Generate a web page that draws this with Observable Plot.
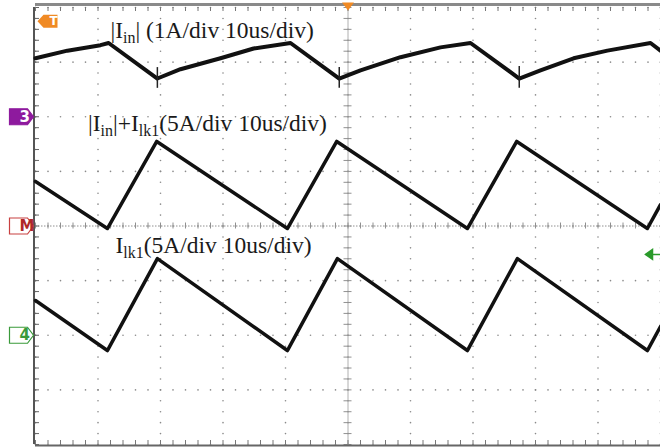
<!DOCTYPE html>
<html>
<head>
<meta charset="utf-8">
<script src="https://cdn.jsdelivr.net/npm/d3@7"></script>
<script src="https://cdn.jsdelivr.net/npm/@observablehq/plot@0.6"></script>
<style>
  html, body { margin: 0; padding: 0; background: #fff; }
  #chart svg { display: block; }
</style>
</head>
<body>
<div id="chart"></div>
<script>
// ---- Data (time in us, current in A) ----
// Trace 1: |Iin|  (1 A/div, ground at +2 div)
const t1Time = [0, 5.1, 10.4, 11.7, 19.5, 23.2, 29.6, 34.9, 40.8, 48.6, 52.0, 58.4, 64.8, 69.6, 77.4, 80.8, 86.1, 91.5, 98.4, 100];
const t1Amp  = [1.07, 1.21, 1.31, 1.35, 0.70, 0.87, 1.07, 1.25, 1.35, 0.70, 0.85, 1.09, 1.27, 1.35, 0.70, 0.85, 1.07, 1.21, 1.35, 1.21];
// glitches on trace 1 at its minima
const spikeTime = [19.5, 48.6, 77.4];
const spikeLow  = [0.52, 0.52, 0.52];
const spikeHigh = [0.90, 0.90, 0.92];
// Trace 2: |Iin| + Ilk1 (5 A/div, ground at 0 div)
const t2Time = [0, 11.5, 19.4, 40.3, 48.2, 69.1, 77.0, 97.9, 100];
const t2Amp  = [4.08, -0.23, 7.74, -0.23, 7.74, -0.23, 7.74, -0.23, 1.95];
// Trace 3: Ilk1 (5 A/div, ground at -2 div)
const t3Time = [0, 11.5, 19.5, 40.3, 48.3, 69.1, 77.1, 97.9, 100];
const t3Amp  = [3.18, -1.40, 7.02, -1.40, 7.02, -1.40, 7.02, -1.40, 0.80];

const ampPerDiv = [1, 5, 5];
const groundDiv = [2, 0, -2];

const labels     = ["|I_{in}| (1A/div 10us/div)", "|I_{in}|+I_{lk1}(5A/div 10us/div)", "I_{lk1}(5A/div 10us/div)"];
const labelTime  = [12, 8.4, 12.8];
const labelDiv   = [3.58, 1.88, -0.36];

const markerText   = ["3", "M", "4"];
const markerLevel  = [2, 0, -2];
const markerFill   = ["#8e1a9e", "#ffffff", "#ffffff"];
const markerStroke = ["#8e1a9e", "#c84040", "#3a9a3a"];
const markerInk    = ["#ffffff", "#b02828", "#3a9a3a"];
const triggerLevel = 3.75;      // "T" marker level (div)
const triggerTime  = 50;        // trigger position (us)
const ch4Trigger   = -0.52;     // green arrow level (div)

// ---- build tables ----
function trace(times, amps, i) {
  return times.map((t, k) => ({t, v: amps[k] / ampPerDiv[i] + groundDiv[i]}));
}
const tr1 = trace(t1Time, t1Amp, 0);
const tr2 = trace(t2Time, t2Amp, 1);
const tr3 = trace(t3Time, t3Amp, 2);
const spikes = spikeTime.map((t, k) => ({t, lo: spikeLow[k] / ampPerDiv[0] + groundDiv[0], hi: spikeHigh[k] / ampPerDiv[0] + groundDiv[0]}));
const labelRows = labels.map((s, i) => ({s, t: labelTime[i], v: labelDiv[i]}));
const markers = markerText.map((s, i) => ({s, v: markerLevel[i], fill: markerFill[i], stroke: markerStroke[i], ink: markerInk[i]}));

// graticule
const majorX = d3.range(0, 100.001, 10);
const majorY = d3.range(-4, 4.001, 1);
const minorX = d3.range(0, 100.001, 2);
const minorY = d3.range(-4, 4.001, 0.2);
const gridDots = [];
for (const x of majorX) for (const y of minorY) gridDots.push({x, y});
for (const y of majorY) for (const x of minorX) gridDots.push({x, y});

// symbols
const tagRight = {draw(c) { c.moveTo(-12, -8); c.lineTo(6, -8); c.lineTo(12, 0); c.lineTo(6, 8); c.lineTo(-12, 8); c.closePath(); }};
const tagLeft  = {draw(c) { c.moveTo(10, -6.5); c.lineTo(-4, -6.5); c.lineTo(-10, 0); c.lineTo(-4, 6.5); c.lineTo(10, 6.5); c.closePath(); }};
const downTri  = {draw(c) { c.moveTo(-6, -4); c.lineTo(6, -4); c.lineTo(0, 4); c.closePath(); }};
const leftArrow = {draw(c) { c.moveTo(-7, 0); c.lineTo(0, -5); c.lineTo(0, 5); c.closePath(); c.moveTo(0, 0); c.lineTo(8, 0); }};

const pxX = 6.25, pxY = 54.625;

const chart = Plot.plot({
  width: 660,
  height: 448,
  marginLeft: 35,
  marginRight: 0,
  marginTop: 7,
  marginBottom: 4,
  x: {domain: [0, 100], axis: null},
  y: {domain: [-4, 4], axis: null},
  style: {background: "#ffffff", overflow: "visible"},
  marks: [
    // dotted graticule
    Plot.dot(gridDots, {x: "x", y: "y", r: 0.8, fill: "#8a8a8a"}),
    // centre cross
    Plot.ruleX([50], {stroke: "#b0b0b0", strokeWidth: 1}),
    Plot.ruleY(minorY, {y: d => d, x1: 50 - 4 / pxX, x2: 50 + 4 / pxX, stroke: "#909090"}),
    Plot.ruleY([0], {stroke: "#909090", strokeWidth: 1, strokeDasharray: "1.5,1.5"}),
    Plot.ruleX(minorX, {x: d => d, y1: -3 / pxY, y2: 3 / pxY, stroke: "#909090"}),
    // borders
    Plot.ruleX([0], {stroke: "#555", strokeWidth: 2, dx: -1.5}),
    Plot.ruleY(minorY, {y: d => d, x1: 0, x2: 4 / pxX, stroke: "#666"}),
    Plot.ruleY([4], {stroke: "#8a8a8a", strokeWidth: 3, dy: -3}),
    Plot.ruleX(minorX, {x: d => d, y1: 4, y2: 4 - 4 / pxY, stroke: "#777"}),
    Plot.ruleY([-4], {stroke: "#666", strokeWidth: 2, dy: 1}),
    Plot.ruleX(minorX, {x: d => d, y1: -4, y2: -4 + 4 / pxY, stroke: "#777"}),
    // traces
    Plot.line(tr1, {x: "t", y: "v", stroke: "#111", strokeWidth: 4}),
    Plot.ruleX(spikes, {x: "t", y1: "lo", y2: "hi", stroke: "#222", strokeWidth: 1.5}),
    Plot.line(tr2, {x: "t", y: "v", stroke: "#111", strokeWidth: 3.5}),
    Plot.line(tr3, {x: "t", y: "v", stroke: "#111", strokeWidth: 3.5}),
    // labels
    Plot.text(labelRows, {x: "t", y: "v", text: "s", textAnchor: "start", fontSize: 23.5, fontFamily: "Liberation Serif, Times New Roman, serif", fill: "#1a1a1a", className: "sublabel"}),
    // channel markers (left)
    Plot.dot(markers, {y: "v", frameAnchor: "left", dx: -14, symbol: tagRight, fill: "fill", stroke: "stroke", strokeWidth: 1.2, r: 5}),
    Plot.text(markers, {y: "v", text: "s", frameAnchor: "left", dx: -16, fill: "ink", fontSize: 15, fontWeight: "bold", fontFamily: "DejaVu Sans, sans-serif"}),
    // trigger level marker
    Plot.dot([triggerLevel], {y: d => d, frameAnchor: "left", dx: 12, symbol: tagLeft, fill: "#f08a24", r: 5}),
    Plot.text([triggerLevel], {y: d => d, text: () => "T", frameAnchor: "left", dx: 14, fill: "#fff", fontSize: 12, fontWeight: "bold", fontFamily: "DejaVu Sans, sans-serif"}),
    // trigger position
    Plot.dot([triggerTime], {x: d => d, frameAnchor: "top", dy: -1, symbol: downTri, fill: "#f08a24", r: 5}),
    // ch4 trigger arrow (right)
    Plot.dot([ch4Trigger], {y: d => d, frameAnchor: "right", dx: -8, symbol: leftArrow, fill: "#2a9a2a", stroke: "#2a9a2a", strokeWidth: 1.5, r: 5})
  ]
});

// subscripts: "_{..}" -> lowered smaller tspans
d3.select(chart).selectAll("g.sublabel text, g[aria-label='text'] text").each(function() {
  const s = this.textContent;
  if (!s.includes("_{")) return;
  const sel = d3.select(this);
  sel.text(null);
  const parts = s.split(/(_\{[^}]*\})/);
  let lowered = false;
  for (const p of parts) {
    if (!p) continue;
    if (p.startsWith("_{")) {
      sel.append("tspan").attr("font-size", "0.68em").attr("dy", "0.3em").text(p.slice(2, -1));
      lowered = true;
    } else {
      const ts = sel.append("tspan").text(p);
      if (lowered) { ts.attr("dy", "-0.2em"); lowered = false; }
    }
  }
});

document.getElementById("chart").appendChild(chart);
</script>
</body>
</html>
